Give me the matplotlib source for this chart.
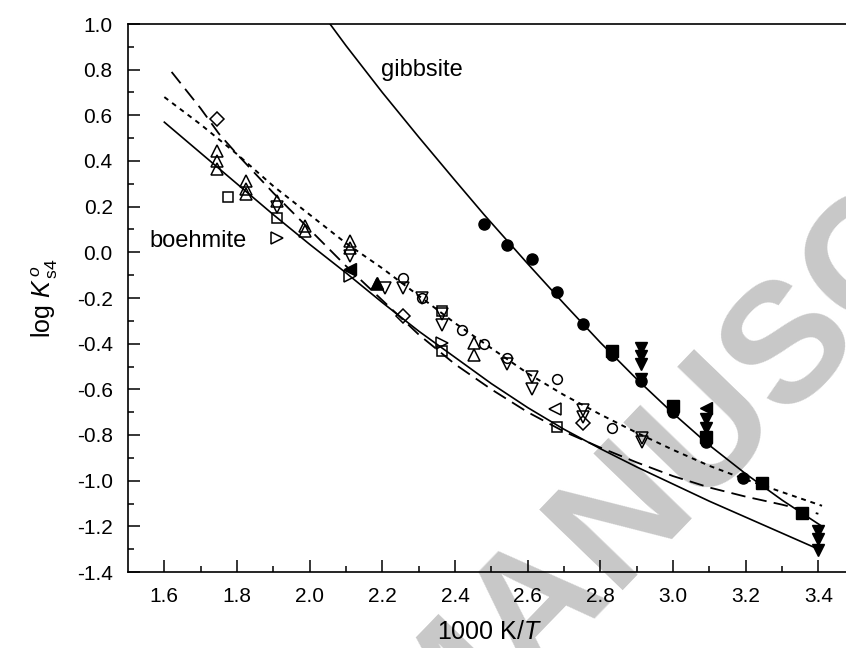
import matplotlib
matplotlib.use('Agg')
import matplotlib.pyplot as plt

plt.rcParams['font.family'] = ['Liberation Sans', 'DejaVu Sans']
plt.rcParams['mathtext.fontset'] = 'custom'
plt.rcParams['mathtext.rm'] = 'Liberation Sans'
plt.rcParams['mathtext.it'] = 'Liberation Sans:italic'

# fitted curves
gib_line_x = [2.056, 2.1, 2.2, 2.3, 2.4, 2.48, 2.6, 2.7, 2.8, 2.9, 3.0, 3.1, 3.2, 3.3, 3.41]
gib_line_y = [1.0, 0.905, 0.70, 0.505, 0.315, 0.165, -0.05, -0.225, -0.395, -0.555, -0.705, -0.845, -0.97, -1.085, -1.20]

solid_x = [1.60, 1.70, 1.80, 1.90, 2.00, 2.10, 2.20, 2.30, 2.40, 2.50, 2.60, 2.70, 2.80, 2.90, 3.00, 3.10, 3.20, 3.30, 3.40]
solid_y = [0.57, 0.435, 0.30, 0.165, 0.035, -0.09, -0.22, -0.345, -0.46, -0.575, -0.68, -0.775, -0.86, -0.94, -1.015, -1.09, -1.16, -1.23, -1.30]

dash_x = [1.62, 1.70, 1.75, 1.80, 1.90, 2.00, 2.10, 2.20, 2.30, 2.40, 2.50, 2.60, 2.70, 2.80, 2.90, 3.00, 3.10, 3.20, 3.30, 3.40]
dash_y = [0.79, 0.63, 0.52, 0.43, 0.26, 0.10, -0.06, -0.21, -0.36, -0.49, -0.60, -0.70, -0.785, -0.855, -0.92, -0.98, -1.03, -1.07, -1.105, -1.145]

dot_x = [1.60, 1.70, 1.80, 1.90, 2.00, 2.10, 2.20, 2.30, 2.40, 2.50, 2.60, 2.70, 2.80, 2.90, 3.00, 3.10, 3.20, 3.30, 3.41]
dot_y = [0.68, 0.56, 0.43, 0.29, 0.165, 0.04, -0.07, -0.19, -0.31, -0.42, -0.53, -0.625, -0.71, -0.79, -0.865, -0.935, -0.995, -1.05, -1.11]

# gibbsite data (filled)
gc_x = [2.481, 2.544, 2.611, 2.68, 2.753, 2.831, 2.912, 3.0, 3.091, 3.193]
gc_y = [0.124, 0.033, -0.030, -0.172, -0.313, -0.45, -0.565, -0.70, -0.83, -0.99]
gs_x = [2.831, 3.0, 3.091, 3.245, 3.355]
gs_y = [-0.433, -0.675, -0.81, -1.01, -1.14]
gd_x = [2.912, 2.912, 2.912, 2.912, 3.091, 3.091, 3.4, 3.4, 3.4]
gd_y = [-0.42, -0.455, -0.49, -0.555, -0.73, -0.77, -1.22, -1.255, -1.305]
gl_x = [3.091, 2.111]
gl_y = [-0.68, -0.075]
gu_x = [2.184]
gu_y = [-0.135]

# boehmite data (open)
bd_x = [1.744, 2.258, 2.753]
bd_y = [0.582, -0.279, -0.748]
bu_x = [1.744, 1.744, 1.744, 1.824, 1.824, 1.824, 1.911, 1.987, 1.987, 2.111, 2.111, 2.184, 2.451, 2.451]
bu_y = [0.443, 0.402, 0.363, 0.311, 0.278, 0.256, 0.226, 0.117, 0.095, 0.05, 0.021, -0.14, -0.397, -0.45]
bv_x = [1.911, 2.111, 2.207, 2.258, 2.308, 2.363, 2.363, 2.542, 2.611, 2.611, 2.753, 2.753, 2.914, 2.914]
bv_y = [0.197, -0.015, -0.155, -0.155, -0.198, -0.27, -0.319, -0.49, -0.547, -0.598, -0.69, -0.72, -0.815, -0.83]
bs_x = [1.774, 1.911, 2.363, 2.363, 2.68]
bs_y = [0.241, 0.149, -0.257, -0.43, -0.767]
bc_x = [2.258, 2.308, 2.418, 2.48, 2.542, 2.68, 2.831]
bc_y = [-0.114, -0.198, -0.342, -0.40, -0.462, -0.555, -0.77]
br_x = [1.909, 2.111, 2.363]
br_y = [0.062, -0.105, -0.397]
bl_x = [2.675]
bl_y = [-0.685]

fig = plt.figure(figsize=(8.46, 6.48), dpi=100)
ax = fig.add_axes([128 / 846, 76 / 648, 722 / 846, 548 / 648])
ax.set_facecolor('none')

# watermark behind everything
fig.text(0.535, -0.085, 'ACCEPTED MANUSCRIPT', fontsize=122, fontweight='bold',
         color='#c8c8c8', rotation=46, rotation_mode='anchor',
         ha='center', va='center', zorder=-5)

ax.plot(gib_line_x, gib_line_y, c='black', lw=1.2)
ax.plot(solid_x, solid_y, c='black', lw=1.2)
ax.plot(dash_x, dash_y, c='black', lw=1.3, dashes=(8, 4))
ax.plot(dot_x, dot_y, c='black', lw=1.4, dashes=(2.5, 2.5))

filled = dict(ls='none', color='black', ms=8)
ax.plot(gc_x, gc_y, marker='o', **filled)
ax.plot(gs_x, gs_y, marker='s', **filled)
ax.plot(gd_x, gd_y, marker='v', **filled)
ax.plot(gl_x, gl_y, marker='<', **filled)
ax.plot(gu_x, gu_y, marker='^', **filled)

hollow = dict(ls='none', color='black', mfc='none', mew=1.1, ms=8)
ax.plot(bd_x, bd_y, marker='D', **dict(hollow, ms=7))
ax.plot(bu_x, bu_y, marker='^', **hollow)
ax.plot(bv_x, bv_y, marker='v', **hollow)
ax.plot(bs_x, bs_y, marker='s', **dict(hollow, ms=7))
ax.plot(bc_x, bc_y, marker='o', **dict(hollow, ms=7))
ax.plot(br_x, br_y, marker='>', **hollow)
ax.plot(bl_x, bl_y, marker='<', **hollow)

ax.text(2.195, 0.80, 'gibbsite', fontsize=17, va='center')
ax.text(1.56, 0.05, 'boehmite', fontsize=17, va='center')

ax.set_xlim(1.5, 3.487)
ax.set_ylim(-1.4, 1.0)
ax.set_xticks([1.6, 1.8, 2.0, 2.2, 2.4, 2.6, 2.8, 3.0, 3.2, 3.4])
ax.set_xticks([1.7, 1.9, 2.1, 2.3, 2.5, 2.7, 2.9, 3.1, 3.3], minor=True)
ax.set_yticks([-1.4, -1.2, -1.0, -0.8, -0.6, -0.4, -0.2, 0.0, 0.2, 0.4, 0.6, 0.8, 1.0])
ax.set_yticks([-1.3, -1.1, -0.9, -0.7, -0.5, -0.3, -0.1, 0.1, 0.3, 0.5, 0.7, 0.9], minor=True)
ax.set_xticklabels(['%.1f' % v for v in ax.get_xticks()])
ax.set_yticklabels(['%.1f' % v for v in ax.get_yticks()])
ax.tick_params(which='both', direction='in', top=False, right=False, labelsize=15, width=1.1)
ax.tick_params(which='major', length=8.5, pad=11)
ax.tick_params(which='minor', length=4.5)
for s in ax.spines.values():
    s.set_linewidth(1.2)

ax.set_xlabel(r'1000 K/$\mathit{T}$', fontsize=18, labelpad=10)
ax.set_ylabel(r'log $\mathit{K}^{\,o}_{\,\rm s4}$', fontsize=18, labelpad=12)

fig.savefig('out.png', dpi=100)
